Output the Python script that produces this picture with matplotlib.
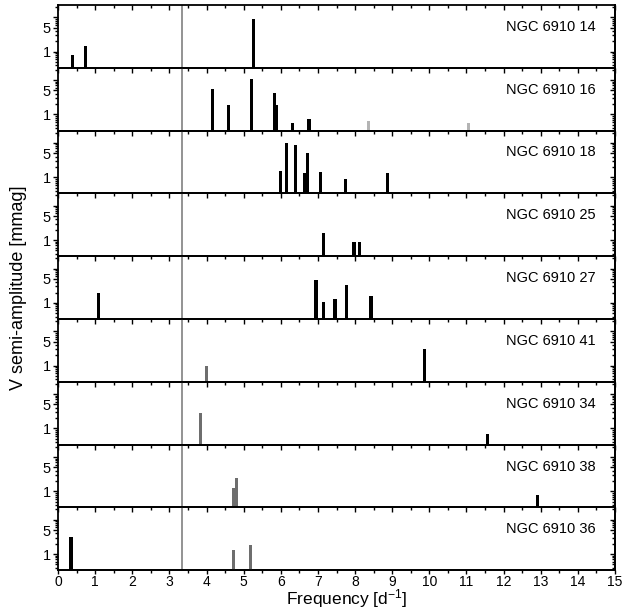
import numpy as np
import matplotlib
matplotlib.use('Agg')
import matplotlib.pyplot as plt
from matplotlib.ticker import FixedLocator, NullFormatter

plt.rcParams['font.family'] = ['Liberation Sans', 'DejaVu Sans']
plt.rcParams['mathtext.default'] = 'regular'

BLACK = 'black'
DARK = '#6e6e6e'
LIGHT = '#b4b4b4'

# frequencies [d^-1], amplitudes [mmag] and bar colours, one set per star
stars = ['NGC 6910 14', 'NGC 6910 16', 'NGC 6910 18', 'NGC 6910 25', 'NGC 6910 27',
         'NGC 6910 41', 'NGC 6910 34', 'NGC 6910 38', 'NGC 6910 36']

freq_14 = [0.40, 0.75, 5.26]
amp_14 = [0.82, 1.43, 8.7]
col_14 = [BLACK, BLACK, BLACK]

freq_16 = [4.17, 4.59, 5.20, 5.84, 5.89, 6.32, 6.76, 8.36, 11.06]
amp_16 = [5.6, 1.94, 11.1, 4.2, 1.94, 0.56, 0.74, 0.63, 0.55]
col_16 = [BLACK] * 7 + [LIGHT, LIGHT]

freq_18 = [5.99, 6.16, 6.39, 6.64, 6.71, 7.07, 7.75, 8.87]
amp_18 = [1.49, 10.0, 8.5, 1.34, 4.95, 1.39, 0.89, 1.37]
col_18 = [BLACK] * 8

freq_25 = [7.15, 7.97, 8.13]
amp_25 = [1.57, 0.90, 0.90]
col_25 = [BLACK] * 3

freq_27 = [1.10, 6.95, 7.15, 7.46, 7.78, 8.43]
amp_27 = [1.90, 4.7, 1.06, 1.27, 3.27, 1.55]
col_27 = [BLACK] * 6

freq_41 = [4.00, 9.86]
amp_41 = [0.95, 3.1]
col_41 = [DARK, BLACK]

freq_34 = [3.83, 11.56]
amp_34 = [2.86, 0.69]
col_34 = [DARK, BLACK]

freq_38 = [4.72, 4.80, 12.92]
amp_38 = [1.25, 2.40, 0.79]
col_38 = [DARK, DARK, BLACK]

freq_36 = [0.35, 4.73, 5.19]
amp_36 = [3.25, 1.35, 1.85]
col_36 = [BLACK, DARK, DARK]

freqs = [freq_14, freq_16, freq_18, freq_25, freq_27, freq_41, freq_34, freq_38, freq_36]
amps = [amp_14, amp_16, amp_18, amp_25, amp_27, amp_41, amp_34, amp_38, amp_36]
cols = [col_14, col_16, col_18, col_25, col_27, col_41, col_34, col_38, col_36]

f_line = 3.33

YMIN, YMAX = 0.34, 23
y_major = [1, 5, 10]
y_minor = [0.4, 0.5, 0.6, 0.7, 0.8, 0.9, 2, 3, 4, 6, 7, 8, 9, 20]

fig, axes = plt.subplots(9, 1, sharex=True, figsize=(6.25, 6.11), dpi=100)
fig.subplots_adjust(left=0.0928, right=0.984, top=0.992, bottom=0.0668, hspace=0)

for i, ax in enumerate(axes):
    ax.set_facecolor('none')
    ax.set_yscale('log')
    ax.bar(freqs[i], np.array(amps[i]) - 0.01, bottom=0.01, width=0.085,
           color=cols[i], linewidth=0)
    ax.axvline(f_line, color='#8a8a8a', lw=1.3, zorder=0)
    ax.set_ylim(YMIN, YMAX)
    ax.set_xlim(0, 15)
    ax.yaxis.set_major_locator(FixedLocator(y_major))
    ax.yaxis.set_minor_locator(FixedLocator(y_minor))
    ax.set_yticklabels(['1', '5', ''])
    ax.yaxis.set_minor_formatter(NullFormatter())
    ax.xaxis.set_major_locator(FixedLocator(range(16)))
    ax.xaxis.set_minor_locator(FixedLocator(np.arange(0.5, 15, 1.0)))
    for s in ax.spines.values():
        s.set_linewidth(1.3)
    ax.tick_params(axis='y', which='both', direction='out', left=True, right=False,
                   labelsize=10.5, pad=1.5, width=1.0)
    ax.tick_params(axis='y', which='major', length=3.5)
    ax.tick_params(axis='y', which='minor', length=2)
    # right side: inward ticks
    sec_y = ax.secondary_yaxis('right')
    sec_y.yaxis.set_major_locator(FixedLocator(y_major))
    sec_y.yaxis.set_minor_locator(FixedLocator(y_minor))
    sec_y.yaxis.set_major_formatter(NullFormatter())
    sec_y.yaxis.set_minor_formatter(NullFormatter())
    sec_y.tick_params(axis='y', which='both', direction='in', width=1.0)
    sec_y.tick_params(axis='y', which='major', length=3.5)
    sec_y.tick_params(axis='y', which='minor', length=2)
    sec_y.spines['right'].set_linewidth(1.3)
    # top side: inward ticks (these also stand for the bottom ticks of the panel above)
    ax.tick_params(axis='x', which='both', direction='in', top=True, bottom=False,
                   labelbottom=False, width=1.0)
    ax.tick_params(axis='x', which='major', length=3.5)
    ax.tick_params(axis='x', which='minor', length=2)
    ax.text(0.966, 0.65, stars[i], transform=ax.transAxes, ha='right', va='center',
            fontsize=10.5)

# bottom panel: outward ticks with labels
ax = axes[-1]
sec_x = ax.secondary_xaxis('bottom')
sec_x.xaxis.set_major_locator(FixedLocator(range(16)))
sec_x.xaxis.set_minor_locator(FixedLocator(np.arange(0.5, 15, 1.0)))
sec_x.tick_params(axis='x', which='both', direction='out', width=1.0, labelsize=10, pad=0.5)
sec_x.tick_params(axis='x', which='major', length=3)
sec_x.tick_params(axis='x', which='minor', length=2)
sec_x.spines['bottom'].set_linewidth(1.3)

fig.text(0.555, 0.001, 'Frequency [d$^{-1}$]', ha='center', va='bottom', fontsize=12.5)
fig.text(0.029, 0.529, 'V semi-amplitude [mmag]', rotation=90, ha='center', va='center',
         fontsize=13)

fig.savefig('out.png', dpi=100)
